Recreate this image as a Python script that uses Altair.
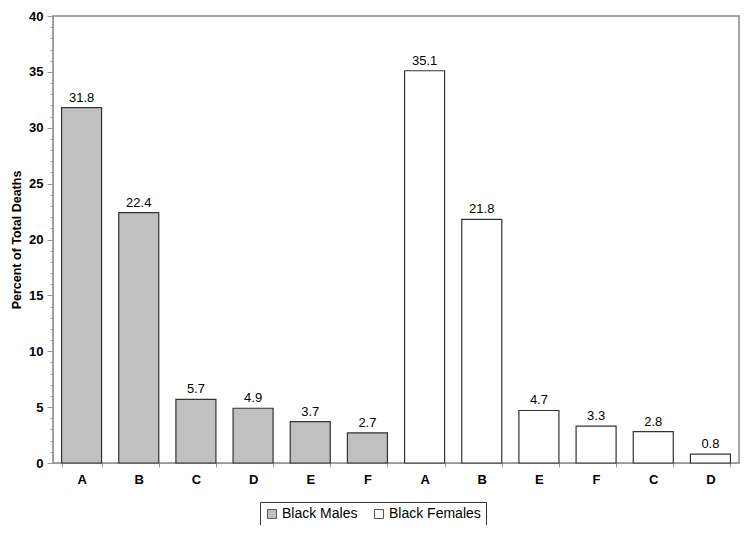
import altair as alt
import pandas as pd

causes = ["A", "B", "C", "D", "E", "F", "A", "B", "E", "F", "C", "D"]
groups = ["Black Males"] * 6 + ["Black Females"] * 6
values = [31.8, 22.4, 5.7, 4.9, 3.7, 2.7, 35.1, 21.8, 4.7, 3.3, 2.8, 0.8]
major_ticks = [0, 5, 10, 15, 20, 25, 30, 35, 40]
minor_ticks = list(range(0, 41))

keys = [f"{c}|{i}" for i, c in enumerate(causes)]
df = pd.DataFrame({"key": keys, "cause": causes, "group": groups, "value": values})
order = keys

FONT = "Liberation Sans"

x = alt.X("key:N", sort=order, title=None,
          scale=alt.Scale(paddingInner=0.3, paddingOuter=0.15),
          axis=alt.Axis(labelExpr="split(datum.label, '|')[0]", labelAngle=0,
                        labelFont=FONT, labelFontSize=13, labelFontWeight="bold",
                        labelColor="#000", labelPadding=6, tickBand="extent",
                        tickSize=4, tickColor="#999", domainColor="#999"))
yscale = alt.Scale(domain=[0, 40], nice=False)
y = alt.Y("value:Q", title="Percent of Total Deaths", scale=yscale,
          axis=alt.Axis(values=major_ticks, orient="left",
                        tickSize=6, tickColor="#999", tickWidth=1,
                        domainColor="#999", grid=False,
                        labelFont=FONT, labelFontSize=13, labelFontWeight="bold",
                        labelColor="#000", labelPadding=4,
                        titleFont=FONT, titleFontSize=12.5, titleFontWeight="bold",
                        titleColor="#000", titlePadding=5))

bars = alt.Chart(df).mark_bar(stroke="#333", strokeWidth=1.2).encode(
    x=x, y=y,
    fill=alt.Fill("group:N", sort=["Black Males", "Black Females"],
                  scale=alt.Scale(domain=["Black Males", "Black Females"],
                                  range=["#c0c0c0", "#ffffff"]),
                  legend=alt.Legend(title=None, orient="none", direction="horizontal",
                                    legendX=207, legendY=486,
                                    symbolType="square", symbolSize=80,
                                    symbolStrokeColor="#555", symbolStrokeWidth=1,
                                    labelFont=FONT, labelFontSize=14, labelColor="#000",
                                    columnPadding=14, labelOffset=3,
                                    strokeColor="#333", padding=5,
                                    fillColor="white"))
)

labels = alt.Chart(df).mark_text(dy=-10, font=FONT, fontSize=13, color="#000").encode(
    x=alt.X("key:N", sort=order),
    y=alt.Y("value:Q", scale=yscale, title=None,
            axis=alt.Axis(values=minor_ticks, orient="left", labels=False,
                          domain=False, tickSize=3, tickColor="#999", tickWidth=1,
                          grid=False, title=None)),
    text=alt.Text("value:Q", format=".1f")
)

chart = (bars + labels).resolve_axis(y="independent").properties(
    width=686, height=447,
    autosize=alt.AutoSizeParams(type="none"),
    padding={"left": 45, "top": 8, "right": 2, "bottom": 62},
).configure_view(stroke="#888", strokeWidth=1.5)

chart.save("out.html", embed_options={"renderer": "svg", "actions": False})
